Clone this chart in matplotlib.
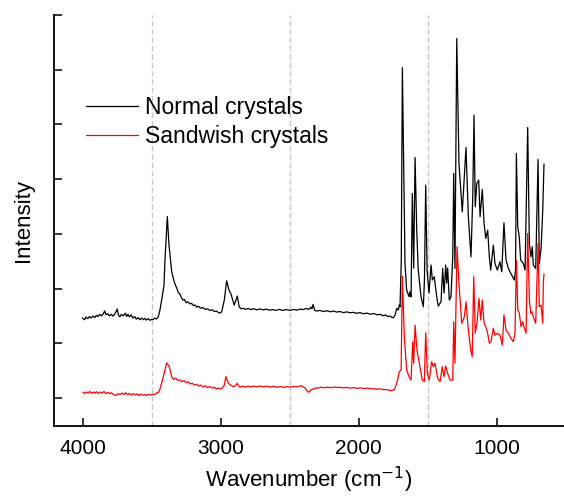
import numpy as np
import matplotlib
matplotlib.use('Agg')
import matplotlib.pyplot as plt
from matplotlib.ticker import MultipleLocator, NullFormatter

plt.rcParams['font.family'] = ['Liberation Sans', 'DejaVu Sans']

# --- spectra (wavenumber cm-1, intensity a.u.) ---
normal_wn = [4000, 3985, 3975, 3962, 3950, 3938, 3925, 3912, 3900, 3888, 3876, 3862, 3850, 3840,
             3830, 3818, 3806, 3792, 3780, 3765, 3749, 3740, 3731, 3718, 3705, 3690, 3680, 3671,
             3660, 3648, 3635, 3622, 3611, 3598, 3585, 3572, 3560, 3550, 3538, 3525, 3512, 3500,
             3490, 3478, 3465, 3452, 3440, 3427, 3410, 3403, 3386, 3374, 3354, 3340, 3330, 3318,
             3305, 3295, 3285, 3273, 3262, 3250, 3238, 3222, 3210, 3198, 3185, 3173, 3160, 3145,
             3128, 3112, 3095, 3077, 3060, 3045, 3030, 3015, 3004, 2992, 2973, 2956, 2939, 2925,
             2901, 2879, 2865, 2850, 2835, 2823, 2800, 2780, 2760, 2740, 2715, 2690, 2670, 2645,
             2620, 2600, 2575, 2550, 2525, 2497, 2470, 2450, 2425, 2400, 2380, 2360, 2345, 2338,
             2330, 2318, 2304, 2280, 2255, 2230, 2207, 2180, 2160, 2135, 2110, 2085, 2060, 2041,
             2015, 1990, 1965, 1941, 1915, 1890, 1865, 1845, 1825, 1805, 1790, 1773, 1760, 1749,
             1736, 1724, 1712, 1705, 1700, 1691, 1683, 1664, 1652, 1635, 1628, 1620, 1611, 1601,
             1591, 1579, 1568, 1548, 1531, 1523, 1514, 1504, 1490, 1475, 1466, 1452, 1434, 1423,
             1403, 1391, 1381, 1369, 1362, 1355, 1343, 1331, 1318, 1311, 1302, 1289, 1273, 1249,
             1222, 1205, 1186, 1173, 1164, 1155, 1144, 1130, 1120, 1104, 1091, 1079, 1065, 1053,
             1043, 1024, 1012, 995, 976, 963, 947, 932, 915, 891, 872, 863, 857, 847, 836, 826,
             807, 794, 775, 763, 751, 742, 734, 717, 700, 691, 678, 666, 657]
normal_int = [0.730, 0.715, 0.740, 0.725, 0.745, 0.730, 0.750, 0.735, 0.755, 0.745, 0.765, 0.750, 0.770, 0.795,
              0.760, 0.770, 0.750, 0.765, 0.748, 0.770, 0.813, 0.760, 0.742, 0.765, 0.750, 0.775, 0.745, 0.765,
              0.740, 0.760, 0.730, 0.745, 0.720, 0.735, 0.715, 0.730, 0.715, 0.728, 0.712, 0.725, 0.710, 0.718,
              0.715, 0.730, 0.722, 0.740, 0.800, 0.895, 1.030, 1.260, 1.658, 1.400, 1.153, 1.080, 1.040, 1.005,
              0.960, 0.950, 0.920, 0.895, 0.900, 0.870, 0.880, 0.860, 0.865, 0.845, 0.850, 0.830, 0.838, 0.820,
              0.826, 0.810, 0.815, 0.800, 0.805, 0.790, 0.795, 0.780, 0.776, 0.788, 0.895, 1.071, 0.986, 0.950,
              0.849, 0.932, 0.831, 0.815, 0.820, 0.810, 0.818, 0.808, 0.816, 0.806, 0.813, 0.805, 0.812, 0.802,
              0.808, 0.800, 0.810, 0.800, 0.808, 0.800, 0.810, 0.802, 0.812, 0.808, 0.818, 0.810, 0.830, 0.815,
              0.855, 0.800, 0.795, 0.800, 0.790, 0.797, 0.788, 0.795, 0.785, 0.790, 0.780, 0.787, 0.778, 0.783,
              0.774, 0.780, 0.770, 0.776, 0.765, 0.772, 0.760, 0.765, 0.752, 0.758, 0.745, 0.748, 0.738, 0.733,
              0.758, 0.819, 0.804, 0.849, 0.834, 1.260, 3.020, 1.233, 0.986, 0.925, 0.971, 0.925, 1.869, 1.187,
              2.198, 1.534, 1.169, 0.925, 0.834, 1.080, 1.945, 1.169, 0.959, 1.215, 1.078, 1.108, 0.925, 0.840,
              0.879, 1.184, 0.959, 1.215, 1.050, 1.187, 0.895, 0.925, 1.290, 2.052, 1.184, 3.285, 2.143, 1.701,
              2.289, 1.656, 1.290, 1.838, 2.584, 1.747, 1.961, 1.991, 1.656, 1.906, 1.595, 1.458, 1.534, 1.290,
              1.169, 1.397, 1.230, 1.169, 1.245, 1.153, 1.601, 1.260, 1.184, 1.123, 1.078, 1.169, 2.235, 1.564,
              1.473, 1.260, 1.230, 1.169, 2.472, 1.413, 1.290, 1.382, 1.215, 1.184, 2.180, 1.230, 1.367, 1.717,
              2.137]

sandwich_wn = [3997, 3985, 3972, 3960, 3948, 3935, 3922, 3912, 3900, 3885, 3870, 3858, 3845, 3830,
               3816, 3803, 3790, 3775, 3756, 3742, 3728, 3715, 3700, 3688, 3675, 3660, 3647, 3633,
               3620, 3606, 3592, 3578, 3565, 3550, 3536, 3522, 3508, 3494, 3478, 3465, 3452, 3441,
               3415, 3391, 3372, 3354, 3340, 3325, 3310, 3294, 3280, 3265, 3250, 3235, 3220, 3205,
               3190, 3173, 3158, 3143, 3128, 3112, 3095, 3077, 3060, 3045, 3030, 3015, 3004, 2990,
               2975, 2961, 2944, 2925, 2908, 2893, 2879, 2870, 2859, 2840, 2820, 2800, 2780, 2760,
               2740, 2715, 2690, 2665, 2640, 2615, 2590, 2565, 2540, 2515, 2497, 2470, 2445, 2425,
               2412, 2400, 2388, 2375, 2365, 2355, 2345, 2328, 2310, 2290, 2270, 2250, 2230, 2200,
               2175, 2150, 2135, 2110, 2085, 2060, 2035, 2010, 1985, 1960, 1935, 1910, 1894, 1870,
               1845, 1820, 1800, 1780, 1760, 1740, 1724, 1705, 1692, 1683, 1669, 1652, 1635, 1620,
               1608, 1601, 1591, 1577, 1560, 1539, 1524, 1514, 1502, 1488, 1471, 1459, 1447, 1427,
               1410, 1394, 1381, 1369, 1355, 1338, 1318, 1311, 1302, 1287, 1273, 1253, 1234, 1222,
               1205, 1188, 1177, 1166, 1155, 1140, 1128, 1115, 1104, 1091, 1079, 1067, 1053, 1041,
               1024, 1012, 995, 976, 959, 947, 932, 915, 896, 879, 867, 857, 847, 836, 823, 811, 799,
               787, 775, 763, 753, 744, 734, 717, 700, 691, 678, 666, 662, 657]
sandwich_int = [0.052, 0.040, 0.055, 0.045, 0.060, 0.042, 0.055, 0.043, 0.058, 0.040, 0.055, 0.045, 0.060, 0.040,
                0.052, 0.038, 0.048, 0.030, 0.022, 0.040, 0.030, 0.045, 0.032, 0.048, 0.030, 0.042, 0.026, 0.040,
                0.028, 0.038, 0.022, 0.035, 0.025, 0.032, 0.022, 0.035, 0.025, 0.036, 0.030, 0.045, 0.050, 0.073,
                0.195, 0.322, 0.286, 0.195, 0.170, 0.180, 0.160, 0.165, 0.150, 0.158, 0.140, 0.148, 0.128, 0.135,
                0.118, 0.125, 0.110, 0.118, 0.100, 0.112, 0.095, 0.105, 0.090, 0.098, 0.082, 0.090, 0.082, 0.090,
                0.110, 0.195, 0.134, 0.115, 0.103, 0.110, 0.134, 0.110, 0.098, 0.108, 0.100, 0.108, 0.100, 0.110,
                0.102, 0.110, 0.102, 0.108, 0.100, 0.106, 0.098, 0.105, 0.097, 0.104, 0.098, 0.106, 0.102, 0.110,
                0.112, 0.100, 0.091, 0.070, 0.052, 0.060, 0.075, 0.082, 0.090, 0.092, 0.098, 0.093, 0.099, 0.094,
                0.100, 0.095, 0.098, 0.092, 0.097, 0.090, 0.095, 0.088, 0.093, 0.086, 0.090, 0.083, 0.085, 0.080,
                0.084, 0.075, 0.078, 0.070, 0.067, 0.080, 0.134, 0.240, 0.256, 1.114, 0.560, 0.256, 0.195, 0.164,
                0.514, 0.317, 0.667, 0.438, 0.317, 0.164, 0.149, 0.596, 0.226, 0.164, 0.332, 0.286, 0.317, 0.180,
                0.149, 0.286, 0.195, 0.292, 0.226, 0.164, 0.164, 0.697, 0.317, 1.382, 1.047, 0.682, 0.742, 0.879,
                0.621, 0.438, 0.377, 1.108, 0.591, 0.712, 0.910, 0.712, 0.895, 0.682, 0.651, 0.605, 0.500, 0.514,
                0.637, 0.575, 0.591, 0.575, 0.484, 0.758, 0.621, 0.591, 0.545, 0.514, 0.591, 1.260, 0.804, 0.774,
                0.651, 0.697, 0.637, 0.591, 1.504, 0.895, 0.774, 0.788, 0.742, 0.682, 1.413, 0.834, 0.849, 0.682,
                1.047, 1.132]

guide_lines = [3500, 2500, 1500]

fig = plt.figure(figsize=(5.64, 4.98), dpi=100)
ax = fig.add_axes([54 / 564, 72 / 498, 510 / 564, 411 / 498])

for g in guide_lines:
    ax.axvline(g, color='#c8c8c8', lw=1.0, ls=(0, (4, 2)), zorder=0)

ax.plot(normal_wn, normal_int, color='black', lw=0.9, label='Normal crystals')
ax.plot(sandwich_wn, sandwich_int, color='red', lw=0.9, label='Sandwish crystals')

ax.set_xlim(4207, 512)
ax.set_ylim(-0.256, 3.5)
ax.set_xticks([4000, 3000, 2000, 1000])
ax.yaxis.set_major_locator(MultipleLocator(0.5))
ax.yaxis.set_major_formatter(NullFormatter())
ax.tick_params(axis='both', direction='in', length=6, width=1.1, labelsize=15)
ax.tick_params(axis='x', pad=9)

for s in ['top', 'right']:
    ax.spines[s].set_visible(False)
for s in ['left', 'bottom']:
    ax.spines[s].set_linewidth(1.3)

ax.set_xlabel('Wavenumber (cm$^{-1}$)', fontsize=16, labelpad=5)
ax.set_ylabel('Intensity', fontsize=16, labelpad=11)

ax.legend(loc='upper left', bbox_to_anchor=(0.063, 0.804), frameon=False, fontsize=16.5,
          borderpad=0, borderaxespad=0, handlelength=2.27, handletextpad=0.3, labelspacing=0.3)

fig.savefig('out.png', dpi=100)
